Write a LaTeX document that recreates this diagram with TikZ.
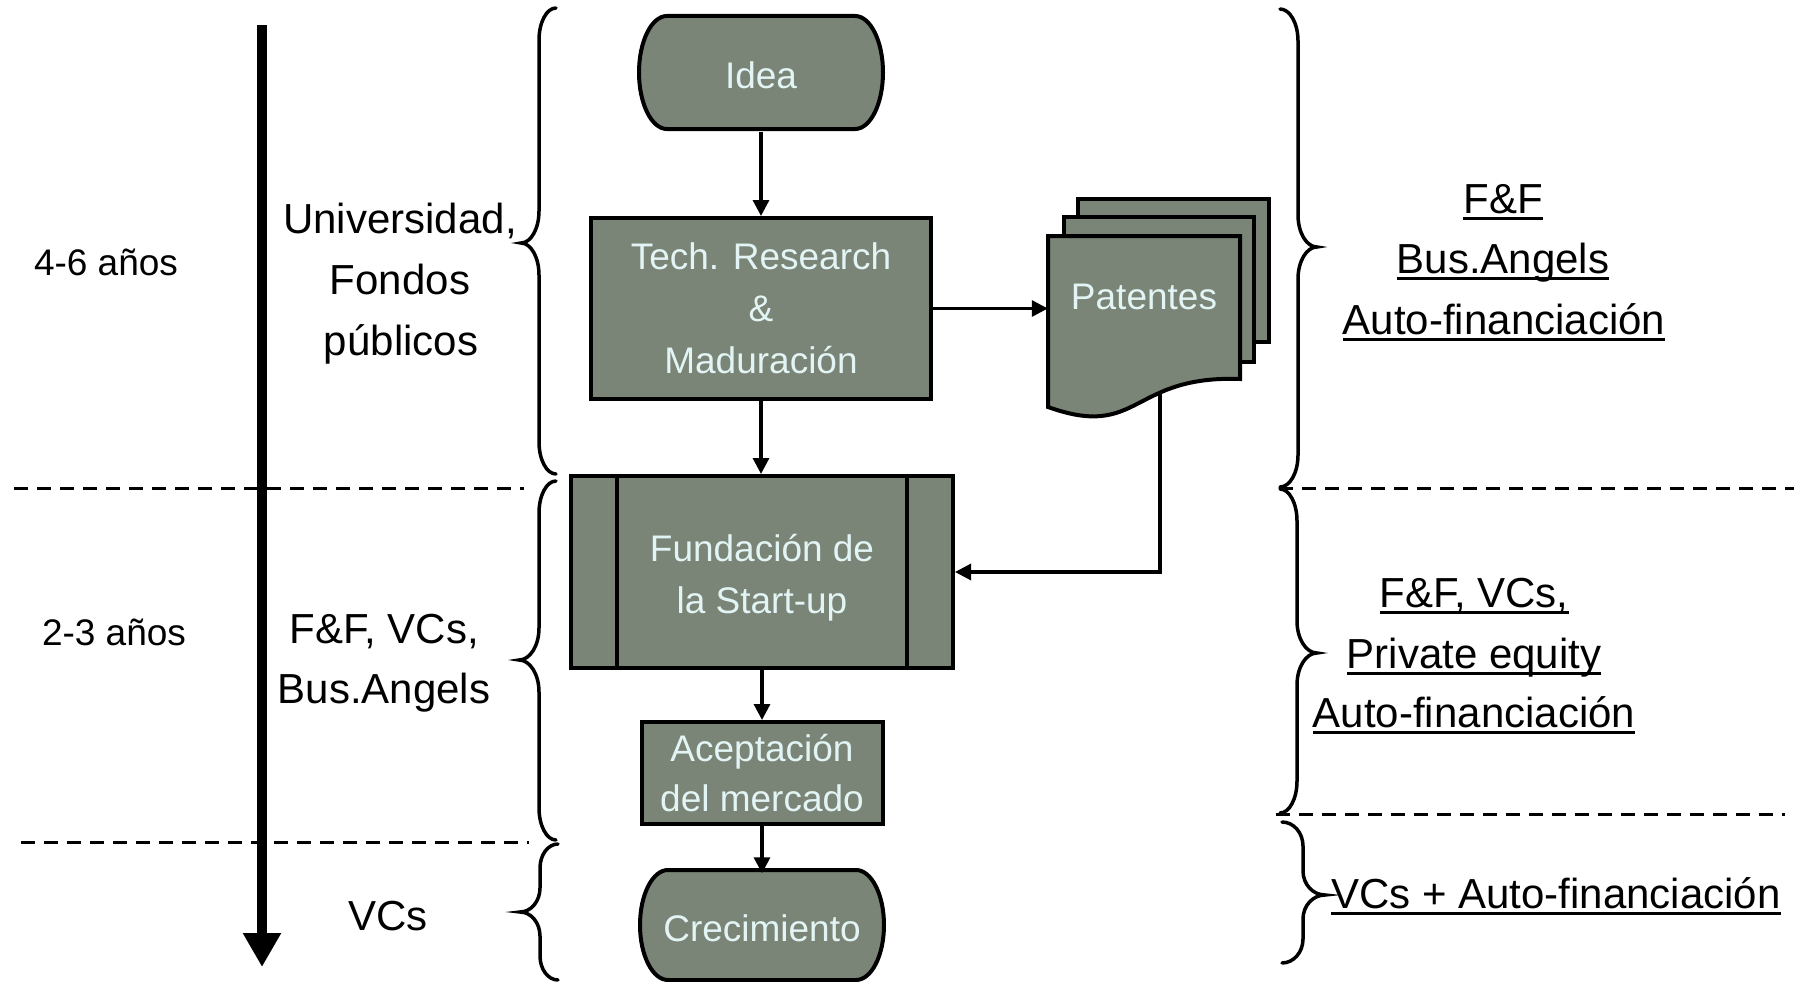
\documentclass[tikz,border=0pt]{standalone}
\usepackage{fontspec}
\setmainfont{Liberation Sans}
\usetikzlibrary{arrows.meta}
\definecolor{boxfill}{RGB}{122,132,119}
\definecolor{boxtextcol}{RGB}{226,245,244}
\newsavebox\ulbox
\newcommand\myul[1]{\sbox\ulbox{#1}\rlap{\rule[-6.5pt]{\wd\ulbox}{3pt}}\usebox\ulbox}
% xe xs xt y0 yt y1 r
\newcommand\bracedraw[7]{%
  \draw[bracestyle] (#1,#4) .. controls ({#1+0.552*(#2-#1)},#4) and (#2,{#4+0.448*#7}) .. (#2,{#4+#7})
   -- (#2,{#5-#7}) .. controls (#2,{#5-0.448*#7}) and ({#3+0.552*(#2-#3)},#5) .. (#3,#5)
   .. controls ({#3+0.552*(#2-#3)},#5) and (#2,{#5+0.448*#7}) .. (#2,{#5+#7})
   -- (#2,{#6-#7}) .. controls (#2,{#6-0.448*#7}) and ({#1+0.552*(#2-#1)},#6) .. (#1,#6);}
% cx cy halfw halfh rx
\newcommand\termshape[5]{%
  \draw[boxstyle] ({#1-#3+#5},{#2-#4}) -- ({#1+#3-#5},{#2-#4})
   .. controls ({#1+#3-#5+0.552*#5},{#2-#4}) and ({#1+#3},{#2-0.552*#4}) .. ({#1+#3},#2)
   .. controls ({#1+#3},{#2+0.552*#4}) and ({#1+#3-#5+0.552*#5},{#2+#4}) .. ({#1+#3-#5},{#2+#4})
   -- ({#1-#3+#5},{#2+#4})
   .. controls ({#1-#3+#5-0.552*#5},{#2+#4}) and ({#1-#3},{#2+0.552*#4}) .. ({#1-#3},#2)
   .. controls ({#1-#3},{#2-0.552*#4}) and ({#1-#3+#5-0.552*#5},{#2-#4}) .. ({#1-#3+#5},{#2-#4}) -- cycle;}
\tikzset{
  boxstyle/.style={draw=black, fill=boxfill, line width=4pt, line join=miter},
  procbox/.style={boxstyle, inner sep=0pt, text=boxtextcol, align=center, font=\fontsize{37}{52}\selectfont},
  btext/.style={inner sep=0pt, text=boxtextcol, align=center, font=\fontsize{37}{52}\selectfont},
  arr/.style={line width=3.2pt, -{Triangle[width=16pt,length=16pt]}},
  bigarr/.style={line width=10pt, -{Triangle[width=36pt,length=34pt]}},
  dashline/.style={line width=3pt, dash pattern=on 14pt off 9pt},
  bracestyle/.style={line width=3.5pt, line cap=round},
  ltext/.style={inner sep=0pt, text=black, font=\fontsize{42}{61}\selectfont},
  ytext/.style={inner sep=0pt, text=black, font=\fontsize{37}{45}\selectfont},
}
\begin{document}
\begin{tikzpicture}[x=1pt,y=-1pt]
\useasboundingbox (0,0) rectangle (1794,982);
\fill[white] (0,0) rectangle (1794,982);

% time arrow
\coordinate (tstart) at (262,25);
\coordinate (tend) at (262,967);
\draw[bigarr] (tstart) -- (tend);

% dashed separators
\draw[dashline] (14,488) -- (524,488);
\draw[dashline] (1279,488) -- (1794,488);
\draw[dashline] (21,842) -- (529,842);
\draw[dashline] (1276,814) -- (1785,814);

% braces
\bracedraw{556}{539}{521}{8}{243}{474}{32}
\bracedraw{556}{539}{519}{481}{660}{840}{32}
\bracedraw{558}{540}{520}{844}{912}{980}{24}
\bracedraw{1280}{1298}{1317}{9}{247}{487}{32}
\bracedraw{1280}{1297}{1317}{489}{653}{813}{32}
\bracedraw{1282}{1303}{1325}{822}{895}{963}{24}

% terminators
\termshape{761}{72.5}{122}{56.5}{28}
\termshape{762}{925}{122}{55}{28}
\node[btext, minimum width=244pt, minimum height=113pt] (idea) at (761,75.5) {Idea};
\node[btext, minimum width=244pt, minimum height=110pt] (crec) at (762,928.5) {Crecimiento};

% process boxes
\node[procbox, minimum width=340pt, minimum height=181pt] (tech) at (761,308.5) {Tech. Research\\\&\\Maduración};
\node[boxstyle, inner sep=0pt, minimum width=382pt, minimum height=192pt] (fund) at (762,572) {};
\draw[line width=4pt] ([xshift=48pt]fund.north west) -- ([xshift=48pt]fund.south west);
\draw[line width=4pt] ([xshift=-48pt]fund.north east) -- ([xshift=-48pt]fund.south east);
\node[btext] (fundtext) at (762,577.5) {Fundación de\\la Start-up};
\node[procbox, minimum width=241pt, minimum height=102pt, font=\fontsize{37}{50}\selectfont] (acept) at (762,773) {Aceptación\\del mercado};

% patentes (multi-document)
\draw[boxstyle] (1078,199) rectangle (1269,342);
\draw[boxstyle] (1064,217) rectangle (1254,362);
\draw[boxstyle] (1048,236) -- (1240,236) -- (1240,379) .. controls (1130,375) and (1140,440) .. (1048,407) -- cycle;
\node[inner sep=0pt, minimum width=192pt, minimum height=143pt] (pat) at (1144,307.5) {};
\node[btext] (pattext) at (1144,297) {Patentes};
\coordinate (patbot) at (1160,391);

% connectors
\draw[arr] (idea.south) -- (tech.north);
\draw[arr] (tech.east) -- (tech.east -| pat.west);
\draw[arr] (tech.south) -- (tech.south |- fund.north);
\draw[arr] (patbot) |- (fund.east);
\draw[arr] (fund.south) -- (acept.north);
\draw[arr] (acept.south) -- (crec.north);

% left labels
\node[ytext, anchor=base] (y1) at (106,275.5) {4-6 años};
\node[ytext, anchor=base] (y2) at (114,645) {2-3 años};
\node[ltext, anchor=base] (l1a) at (400,233) {Universidad,};
\node[ltext, anchor=base] (l1b) at (400,294) {Fondos};
\node[ltext, anchor=base] (l1c) at (401,355) {públicos};
\node[ltext, anchor=base] (l2a) at (384.5,643) {F\&F, VCs,};
\node[ltext, anchor=base] (l2b) at (384,703) {Bus.Angels};
\node[ltext, anchor=base] (l3a) at (388,930) {VCs};

% right labels
\node[ltext, anchor=base] (r1a) at (1503,213) {\myul{F\&F}};
\node[ltext, anchor=base] (r1b) at (1503,273) {\myul{Bus.Angels}};
\node[ltext, anchor=base] (r1c) at (1504,334) {\myul{Auto-financiación}};
\node[ltext, anchor=base] (r2a) at (1474,607) {\myul{F\&F, VCs,}};
\node[ltext, anchor=base] (r2b) at (1474,668) {\myul{Private equity}};
\node[ltext, anchor=base] (r2c) at (1474,727) {\myul{Auto-financiación}};
\node[ltext, anchor=base] (r3a) at (1556,908) {\myul{VCs + Auto-financiación}};
\end{tikzpicture}
\end{document}
